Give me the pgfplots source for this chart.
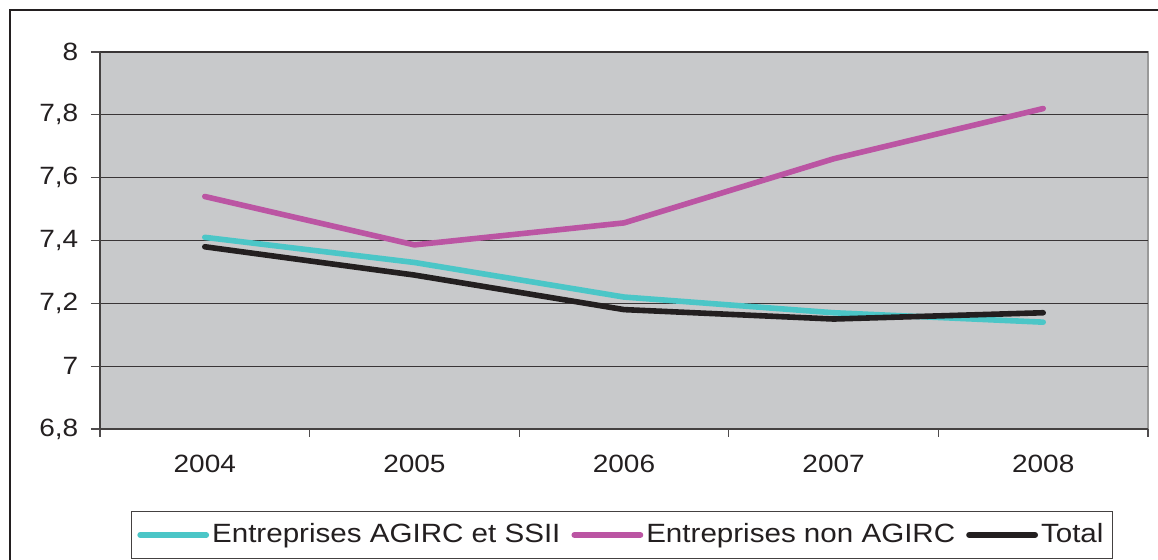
\documentclass[border=0pt]{standalone}
\usepackage{pgfplots}
\pgfplotsset{compat=1.18}
\usepackage{fontspec}
\setmainfont{Liberation Sans}[FakeStretch=1.12]

\definecolor{agirc}{HTML}{4BC6C7}
\definecolor{nonagirc}{HTML}{BB55A3}
\definecolor{total}{HTML}{231F20}
\definecolor{plotbg}{HTML}{C8C9CB}
\definecolor{txt}{HTML}{231F20}

\begin{document}
\fontsize{12.5pt}{15pt}\selectfont
\begin{tikzpicture}[x=0.5pt,y=0.5pt]
  % page frame (1 unit = 1 px)
  \useasboundingbox (0,0) rectangle (1158,560);
  \draw[line width=1.3pt, txt] (10,-5) -- (10,550) -- (1165,550);

  \begin{axis}[
    at={(50pt,65.5pt)}, anchor=south west,
    scale only axis,
    width=524pt, height=188.5pt,
    xmin=0.5, xmax=5.5,
    ymin=6.8, ymax=8,
    axis background/.style={fill=plotbg, draw=black!40, line width=0.6pt},
    axis lines=left,
    axis line style={-, draw=txt!85, line width=0.7pt},
    xtick={1,2,3,4,5},
    xticklabels={2004,2005,2006,2007,2008},
    major x tick style={draw=none},
    minor xtick={0.5,1.5,2.5,3.5,4.5,5.5},
    minor x tick style={draw=txt!80, line width=0.6pt},
    minor tick length=4pt,
    ytick={6.8,7,7.2,7.4,7.6,7.8,8},
    major y tick style={draw=txt!80, line width=0.6pt},
    major tick length=4.5pt,
    tick align=outside,
    ymajorgrids,
    grid style={draw=txt!90, line width=0.6pt},
    /pgf/number format/use comma,
    /pgf/number format/assume math mode=true,
    yticklabel style={font=\fontsize{12.5pt}{15pt}\selectfont, text=txt, xshift=-2pt},
    xticklabel style={font=\fontsize{12.5pt}{15pt}\selectfont, text=txt, yshift=-4pt},
    legend columns=3,
    legend style={
      at={(0.498,-0.281)}, anchor=center,
      draw=txt!85, line width=0.6pt,
      font=\fontsize{13.2pt}{15.5pt}\selectfont,
      text=txt,
      inner xsep=3pt, inner ysep=4pt,
      /tikz/every even column/.append style={column sep=4pt},
      nodes={inner xsep=1.5pt},
    },
    legend image code/.code={\draw[#1, line width=2.9pt] (0pt,0pt) -- (33pt,0pt);},
    every axis plot/.append style={line width=2.8pt, line cap=round, line join=round},
    clip=false,
  ]
    \addplot[agirc] coordinates {(1,7.41) (2,7.33) (3,7.22) (4,7.17) (5,7.14)};
    \addlegendentry{Entreprises AGIRC et SSII}
    \addplot[nonagirc] coordinates {(1,7.54) (2,7.386) (3,7.456) (4,7.66) (5,7.82)};
    \addlegendentry{Entreprises non AGIRC}
    \addplot[total] coordinates {(1,7.38) (2,7.29) (3,7.18) (4,7.15) (5,7.17)};
    \addlegendentry{Total}
  \end{axis}
\end{tikzpicture}
\end{document}
